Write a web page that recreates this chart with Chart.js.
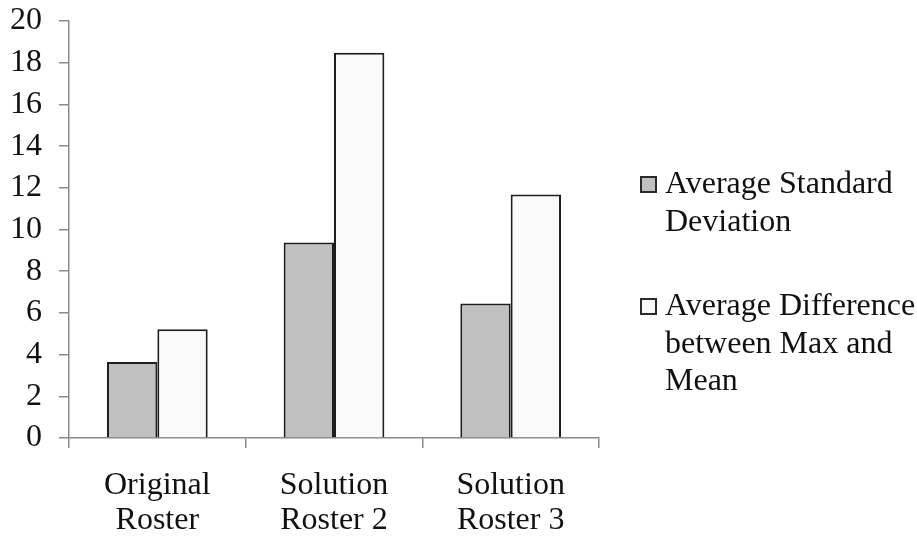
<!DOCTYPE html>
<html>
<head>
<meta charset="utf-8">
<style>
  html, body { margin: 0; padding: 0; background: #ffffff; }
  #wrap { width: 917px; height: 537px; position: relative; }
</style>
<script src="https://cdn.jsdelivr.net/npm/chart.js@4.4.1/dist/chart.umd.min.js"></script>
</head>
<body>
<div id="wrap"><canvas id="chart" width="917" height="537"></canvas></div>
<script>
// Roster categories (multi-line axis labels)
const categories = [["Original", "Roster"], ["Solution", "Roster 2"], ["Solution", "Roster 3"]];
// Series values
const avgStdDev = [3.65, 9.38, 6.45];
const avgMaxMeanDiff = [5.22, 18.48, 11.68];
// Legend text, one entry per series, split into lines
const seriesLabels = [
  ["Average Standard", "Deviation"],
  ["Average Difference", "between Max and", "Mean"]
];
// Value axis range
const yMin = 0, yMax = 20, yStep = 2;

const FONT = "'Liberation Serif', 'Times New Roman', serif";
const FONT_SIZE = 32;
const AXIS_GREY = "#8a8a8a";
const TEXT = "#111111";

// Legend drawn at the right of the plot with wrapped labels
const sideLegend = {
  id: "sideLegend",
  afterDraw(chart) {
    const ctx = chart.ctx;
    const boxX = 640, textX = 665, box = 17, lineH = 37.5;
    const firstBaselines = [193, 315];
    ctx.save();
    ctx.font = FONT_SIZE + "px " + FONT;
    ctx.textBaseline = "alphabetic";
    ctx.textAlign = "left";
    chart.data.datasets.forEach((ds, i) => {
      const base = firstBaselines[i];
      ctx.fillStyle = ds.backgroundColor;
      ctx.fillRect(boxX, base - box, box, box);
      ctx.lineWidth = 2;
      ctx.strokeStyle = "#2a2a2a";
      ctx.strokeRect(boxX + 1, base - box + 1, box - 2, box - 2);
      ctx.fillStyle = TEXT;
      seriesLabels[i].forEach((line, j) => {
        ctx.fillText(line, textX, base + j * lineH);
      });
    });
    ctx.restore();
  }
};

new Chart(document.getElementById("chart"), {
  type: "bar",
  data: {
    labels: categories,
    datasets: [
      {
        label: seriesLabels[0].join(" "),
        data: avgStdDev,
        backgroundColor: "#c0c0c0",
        borderColor: "#1e1e1e",
        borderWidth: 2,
        categoryPercentage: 0.57,
        barPercentage: 1.0
      },
      {
        label: seriesLabels[1].join(" "),
        data: avgMaxMeanDiff,
        backgroundColor: "#f9f9f9",
        borderColor: "#1e1e1e",
        borderWidth: 2,
        categoryPercentage: 0.57,
        barPercentage: 1.0
      }
    ]
  },
  options: {
    responsive: false,
    animation: false,
    layout: { padding: { top: 21, right: 318, bottom: 0, left: 0 } },
    plugins: {
      legend: { display: false },
      tooltip: { enabled: false }
    },
    scales: {
      x: {
        grid: {
          offset: true,
          drawOnChartArea: false,
          drawTicks: true,
          tickLength: 10,
          color: AXIS_GREY,
          lineWidth: 1.5
        },
        border: { display: true, color: AXIS_GREY, width: 1.5 },
        ticks: {
          color: TEXT,
          font: { family: FONT, size: FONT_SIZE, lineHeight: 1.094 },
          padding: 20,
          maxRotation: 0,
          autoSkip: false
        },
        afterFit(scale) { scale.height = 99; }
      },
      y: {
        min: yMin,
        max: yMax,
        grid: {
          drawOnChartArea: false,
          drawTicks: true,
          tickLength: 10,
          color: AXIS_GREY,
          lineWidth: 1.5
        },
        border: { display: true, color: AXIS_GREY, width: 1.5 },
        ticks: {
          stepSize: yStep,
          autoSkip: false,
          color: TEXT,
          font: { family: FONT, size: FONT_SIZE, lineHeight: 1.0 },
          padding: 17
        },
        afterFit(scale) {
          scale.width = 69;
          scale.paddingTop = 0;
          scale.paddingBottom = 0;
        }
      }
    }
  },
  plugins: [sideLegend]
});
</script>
</body>
</html>
